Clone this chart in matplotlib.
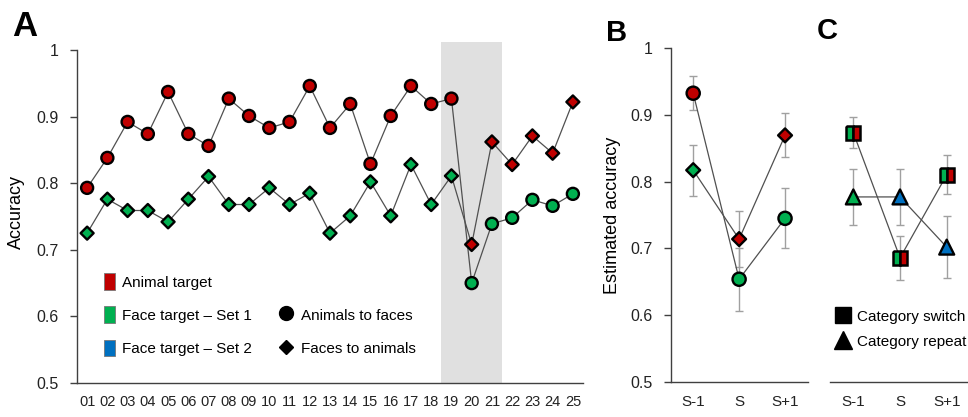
import matplotlib
matplotlib.use("Agg")
import matplotlib.pyplot as plt
from matplotlib.patches import Patch
from matplotlib.lines import Line2D

plt.rcParams['font.family'] = ['Liberation Sans', 'DejaVu Sans']

# kleuren
red = '#c00000'
green = '#00b050'
blue = '#0070c0'
line_col = '#505050'
spine_col = '#404040'

# Panel A: accuracy per session
sessions = ['01', '02', '03', '04', '05', '06', '07', '08', '09', '10', '11', '12', '13',
            '14', '15', '16', '17', '18', '19', '20', '21', '22', '23', '24', '25']
animals_to_faces = [0.793, 0.838, 0.892, 0.874, 0.937, 0.874, 0.856, 0.927, 0.901, 0.883,
                    0.892, 0.946, 0.883, 0.919, 0.829, 0.901, 0.946, 0.919, 0.927, 0.650,
                    0.739, 0.748, 0.775, 0.766, 0.784]
faces_to_animals = [0.725, 0.776, 0.759, 0.759, 0.742, 0.776, 0.810, 0.768, 0.768, 0.793,
                    0.768, 0.785, 0.725, 0.751, 0.802, 0.751, 0.828, 0.768, 0.811, 0.708,
                    0.862, 0.828, 0.871, 0.845, 0.922]
last_session_before_switch = 19
shaded_sessions = (18.5, 21.5)

# Panel B: estimated accuracy around the switch
positions = ['S-1', 'S', 'S+1']
b_circle = [0.932, 0.654, 0.745]
b_circle_err = [0.025, 0.047, 0.045]
b_circle_colors = [red, green, green]
b_diamond = [0.817, 0.714, 0.869]
b_diamond_err = [0.038, 0.042, 0.033]
b_diamond_colors = [green, red, red]

# Panel C: category switch vs repeat
c_switch = [0.873, 0.686, 0.810]
c_switch_err = [0.023, 0.033, 0.029]
c_repeat = [0.777, 0.777, 0.702]
c_repeat_err = [0.042, 0.042, 0.046]
c_repeat_colors = [green, blue, blue]

W, H = 968, 417
fig = plt.figure(figsize=(W / 100, H / 100), dpi=100)


def px_axes(left, right, bottom, top):
    return fig.add_axes([left / W, 1 - bottom / H, (right - left) / W, (bottom - top) / H])


def style(ax, xsize=11):
    for s in ['top', 'right']:
        ax.spines[s].set_visible(False)
    for s in ['left', 'bottom']:
        ax.spines[s].set_color(spine_col)
        ax.spines[s].set_linewidth(1.0)
    ax.tick_params(axis='x', length=0, pad=9, labelsize=xsize, colors='#222222')
    ax.tick_params(axis='y', length=5, width=1, color=spine_col, pad=8, labelsize=11.5,
                   labelcolor='#222222', direction='out')


yticks = [0.5, 0.6, 0.7, 0.8, 0.9, 1.0]
ylabels = ['0.5', '0.6', '0.7', '0.8', '0.9', '1']
legend_fs = 11

# ---------- A ----------
axA = px_axes(77, 583, 383, 42)
style(axA, xsize=10.5)
x = list(range(1, len(sessions) + 1))
axA.axvspan(shaded_sessions[0], shaded_sessions[1], color='#e0e0e0', lw=0, zorder=0)
axA.plot(x, animals_to_faces, color=line_col, lw=0.9, zorder=2)
axA.plot(x, faces_to_animals, color=line_col, lw=0.9, zorder=2)
circ_cols = [red if s <= last_session_before_switch else green for s in x]
diam_cols = [green if s <= last_session_before_switch else red for s in x]
axA.scatter(x, animals_to_faces, s=75, marker='o', c=circ_cols, edgecolors='black',
            linewidths=1.7, zorder=3)
axA.scatter(x, faces_to_animals, s=44, marker='D', c=diam_cols, edgecolors='black',
            linewidths=1.7, zorder=3)
axA.set_xlim(0.5, 25.5)
axA.set_ylim(0.5, 1.012)
axA.spines['left'].set_bounds(0.5, 1.0)
axA.set_xticks(x)
axA.set_xticklabels(sessions)
axA.set_yticks(yticks)
axA.set_yticklabels(ylabels)
axA.set_ylabel('Accuracy', fontsize=13, labelpad=8)

leg1 = axA.legend(handles=[Patch(facecolor=red, edgecolor='#777777', lw=0.6),
                           Patch(facecolor=green, edgecolor='#777777', lw=0.6),
                           Patch(facecolor=blue, edgecolor='#777777', lw=0.6)],
                  labels=['Animal target', 'Face target – Set 1', 'Face target – Set 2'],
                  loc='upper left', bbox_to_anchor=(1.84, 0.665), bbox_transform=axA.transData,
                  frameon=False, fontsize=legend_fs, handlelength=0.72, handleheight=1.31,
                  handletextpad=0.44, labelspacing=1.08, borderpad=0, borderaxespad=0)
axA.add_artist(leg1)
axA.legend(handles=[Line2D([], [], ls='', marker='o', color='black', ms=10),
                    Line2D([], [], ls='', marker='D', color='black', ms=7.5)],
           labels=['Animals to faces', 'Faces to animals'],
           loc='upper left', bbox_to_anchor=(10.48, 0.6145), bbox_transform=axA.transData,
           frameon=False, fontsize=legend_fs, handlelength=0.89, handleheight=1.31,
           handletextpad=0.52, labelspacing=1.08, borderpad=0, borderaxespad=0)

# ---------- B ----------
axB = px_axes(670.7, 808, 382.3, 47.7)
style(axB)
xp = list(range(len(positions)))
axB.errorbar(xp, b_circle, yerr=b_circle_err, fmt='none', ecolor='#a0a0a0', elinewidth=1,
             capsize=3, capthick=1, zorder=1)
axB.errorbar(xp, b_diamond, yerr=b_diamond_err, fmt='none', ecolor='#a0a0a0', elinewidth=1,
             capsize=3, capthick=1, zorder=1)
axB.plot(xp, b_circle, color=line_col, lw=0.9, zorder=2)
axB.plot(xp, b_diamond, color=line_col, lw=0.9, zorder=2)
axB.scatter(xp, b_circle, s=90, marker='o', c=b_circle_colors, edgecolors='black',
            linewidths=1.7, zorder=3)
axB.scatter(xp, b_diamond, s=50, marker='D', c=b_diamond_colors, edgecolors='black',
            linewidths=1.7, zorder=3)
axB.set_xlim(-0.49, 2.5)
axB.set_ylim(0.5, 1.0)
axB.set_xticks(xp)
axB.set_xticklabels(positions)
axB.set_yticks(yticks)
axB.set_yticklabels(ylabels)
axB.set_ylabel('Estimated accuracy', fontsize=13, labelpad=7)

# ---------- C ----------
axC = px_axes(830, 968, 382.3, 47.7)
style(axC)
axC.spines['left'].set_visible(False)
axC.tick_params(axis='y', left=False, labelleft=False)
axC.errorbar(xp, c_switch, yerr=c_switch_err, fmt='none', ecolor='#a0a0a0', elinewidth=1,
             capsize=3, capthick=1, zorder=1)
axC.errorbar(xp, c_repeat, yerr=c_repeat_err, fmt='none', ecolor='#a0a0a0', elinewidth=1,
             capsize=3, capthick=1, zorder=1)
axC.plot(xp, c_switch, color=line_col, lw=0.9, zorder=2)
axC.plot(xp, c_repeat, color=line_col, lw=0.9, zorder=2)
axC.plot(xp, c_switch, ls='', marker='s', ms=10, fillstyle='left', markerfacecolor=green,
         markerfacecoloralt=red, markeredgecolor='black', markeredgewidth=1.8, zorder=3)
axC.scatter(xp, c_repeat, s=115, marker='^', c=c_repeat_colors, edgecolors='black',
            linewidths=1.7, zorder=3)
axC.set_xlim(-0.5, 2.456)
axC.set_ylim(0.5, 1.0)
axC.set_xticks(xp)
axC.set_xticklabels(positions)
axC.legend(handles=[Line2D([], [], ls='', marker='s', color='black', ms=11),
                    Line2D([], [], ls='', marker='^', color='black', ms=13)],
           labels=['Category switch', 'Category repeat'],
           loc='upper left', bbox_to_anchor=(-0.392, 0.609), bbox_transform=axC.transData,
           frameon=False, fontsize=legend_fs, handlelength=1.0, handleheight=1.0,
           handletextpad=0.42, labelspacing=0.63, borderpad=0, borderaxespad=0)

# panel letters
for letter, cx, cy, size in [('A', 25, 26, 25), ('B', 617, 33, 21), ('C', 827, 31, 21)]:
    fig.text(cx / W, 1 - cy / H, letter, ha='center', va='center', fontsize=size,
             fontweight='bold')

fig.savefig('out.png', dpi=100)
